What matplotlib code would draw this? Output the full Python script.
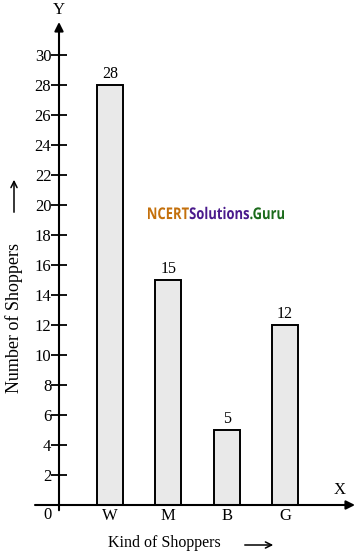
import matplotlib
matplotlib.use("Agg")
import matplotlib.pyplot as plt
from matplotlib.patches import FancyArrowPatch, PathPatch, Rectangle
from matplotlib.textpath import TextPath
from matplotlib.font_manager import FontProperties
from matplotlib.transforms import Affine2D

categories = ["W", "M", "B", "G"]
values = [28, 15, 5, 12]
yticks = list(range(2, 31, 2))

plt.rcParams['font.family'] = ['Liberation Serif', 'DejaVu Serif']

fig = plt.figure(figsize=(3.59, 5.6), dpi=100)
W, H = 359, 560
x0, y0 = 59, 505
xtop = 355
ytop = 22
ax = fig.add_axes([x0 / W, (H - y0) / H, (xtop - x0) / W, (y0 - ytop) / H])
spacing = 58.3
xmin = (x0 - 110) / spacing
xmax = (xtop - 110) / spacing
ymax = (y0 - ytop) / 15
ax.set_xlim(xmin, xmax)
ax.set_ylim(0, ymax)

for s in ax.spines.values():
    s.set_visible(False)

pos = list(range(len(categories)))
ax.bar(pos, values, width=26 / spacing, color="#e9e9e9",
       edgecolor="black", linewidth=1.4, zorder=2)
for p, v in zip(pos, values):
    ax.text(p, v + 0.2, str(v), ha="center", va="bottom", fontsize=11.5)

ax.annotate("", xy=(xmax, 0), xytext=((35 - 110) / spacing, 0),
            arrowprops=dict(arrowstyle="-|>", color="black", lw=1.5,
                            mutation_scale=13, shrinkA=0, shrinkB=0),
            annotation_clip=False)
ax.annotate("", xy=(xmin, ymax), xytext=(xmin, -0.35),
            arrowprops=dict(arrowstyle="-|>", color="black", lw=1.5,
                            mutation_scale=13, shrinkA=0, shrinkB=0),
            annotation_clip=False)

ax.set_yticks(yticks)
ax.set_yticklabels([str(t) for t in yticks], fontsize=12)
ax.tick_params(axis="y", direction="inout", length=11, width=1.3, pad=0)
ax.set_xticks(pos)
ax.set_xticklabels(categories, fontsize=12)
ax.tick_params(axis="x", length=0, pad=2)

ax.text((48 - 110) / spacing, -10 / 15, "0", ha="center", va="center", fontsize=12)
ax.text(xmin, (y0 - 18) / 15, "Y", ha="center", va="bottom", fontsize=12)
ax.text((340 - 110) / spacing, 7 / 15, "X", ha="center", va="bottom", fontsize=12)

fig.text(108 / W, 1 - 543 / H, "Kind of Shoppers", ha="left", va="center", fontsize=11.5)
fig.add_artist(FancyArrowPatch((242 / W, 1 - 545 / H), (276 / W, 1 - 545 / H),
               transform=fig.transFigure, arrowstyle="->", mutation_scale=11, lw=1.1))
fig.text(14 / W, 1 - 318 / H, "Number of Shoppers", rotation=90, ha="center", va="center", fontsize=13)
fig.add_artist(FancyArrowPatch((14 / W, 1 - 215 / H), (14 / W, 1 - 177 / H),
               transform=fig.transFigure, arrowstyle="->", mutation_scale=11, lw=1.1))

# watermark text, one string drawn as glyph outlines and coloured by piece
pieces = ["NCERT", "Solutions", ".Guru"]
colors = ["#c4700c", "#4a1a8c", "#1c6b1c"]
fp = FontProperties(family="Open Sans", weight="bold")
full = "".join(pieces)
tp = TextPath((0, 0), full, size=10, prop=fp)
ext = tp.get_extents()
kx = 136 / ext.width   # target ink width 136 px
ky = 12.5 / ext.height  # target ink height ~12 px
tr = (Affine2D().translate(-ext.x0, -(ext.y0 + ext.y1) / 2)
      .scale(kx, ky).translate(148, H - 213).scale(1 / W, 1 / H)
      + fig.transFigure)
cuts = [ext.x0 - 5]
acc = ""
for ptxt in pieces[:-1]:
    acc += ptxt
    cuts.append(TextPath((0, 0), acc, size=10, prop=fp).get_extents().x1 + 0.3)
cuts.append(ext.x1 + 5)
for i, col in enumerate(colors):
    patch = PathPatch(tp, facecolor=col, edgecolor="none", transform=tr)
    clip = Rectangle((cuts[i], ext.y0 - 5), cuts[i + 1] - cuts[i], ext.height + 10,
                     transform=tr)
    fig.add_artist(patch)
    patch.set_clip_path(clip)

fig.savefig("out.png", dpi=100)
